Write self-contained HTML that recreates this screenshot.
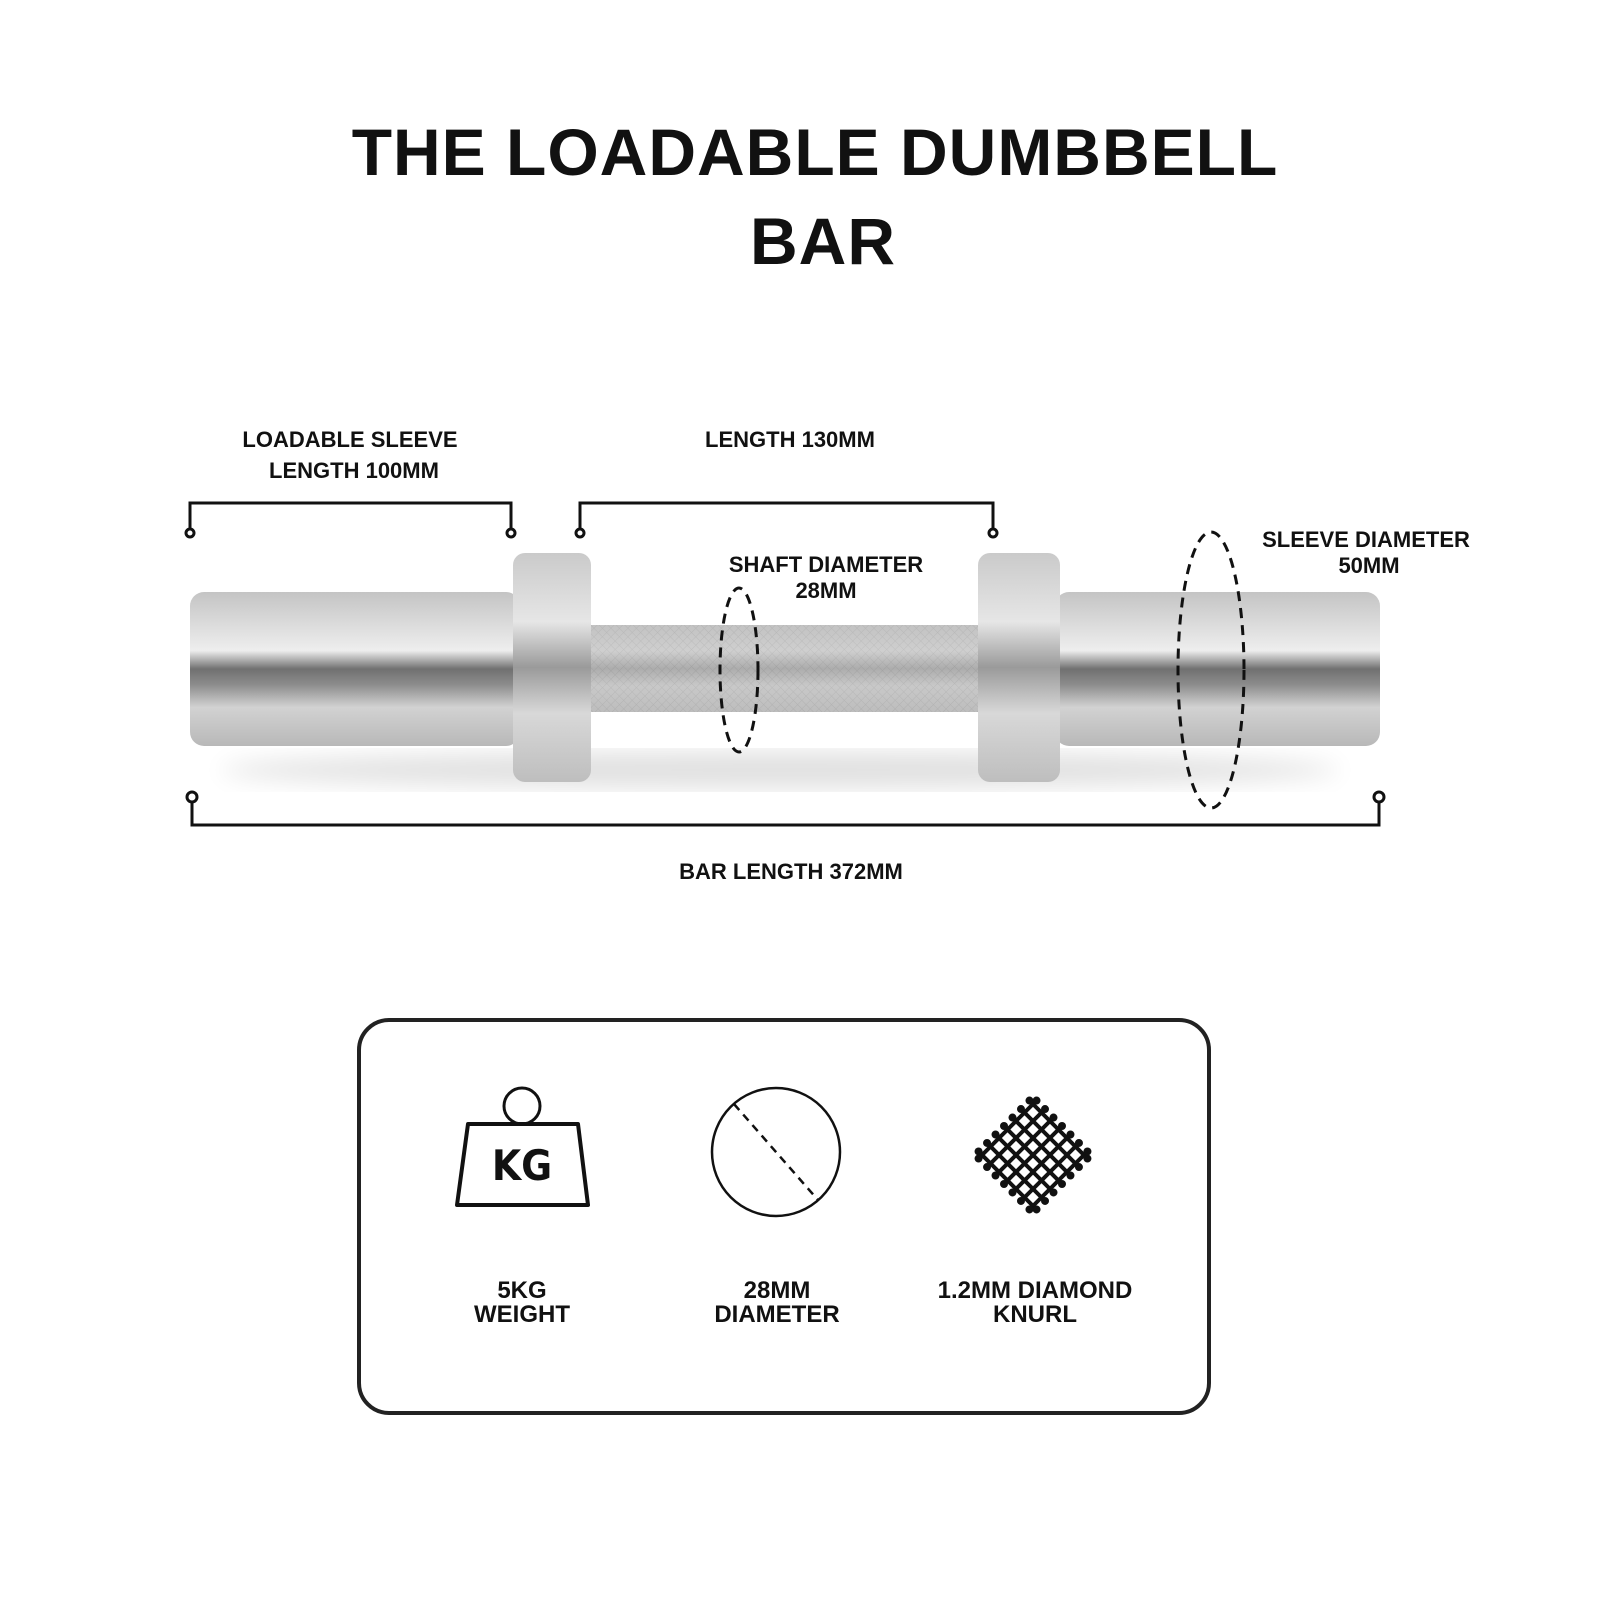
<!DOCTYPE html>
<html><head><style>
html,body{margin:0;padding:0;background:#fff}
svg{display:block}
text{font-family:"Liberation Sans",sans-serif;font-weight:bold;fill:#111}
</style></head><body>
<svg width="1600" height="1600" viewBox="0 0 1600 1600" xmlns="http://www.w3.org/2000/svg">
<defs>
<linearGradient id="m" x1="0" y1="0" x2="0" y2="1">
<stop offset="0" stop-color="#c4c4c4"/><stop offset="0.2" stop-color="#dadada"/>
<stop offset="0.38" stop-color="#eeeeee"/><stop offset="0.5" stop-color="#707070"/>
<stop offset="0.6" stop-color="#8c8c8c"/><stop offset="0.75" stop-color="#d2d2d2"/>
<stop offset="1" stop-color="#b8b8b8"/></linearGradient>
<linearGradient id="c" x1="0" y1="0" x2="0" y2="1">
<stop offset="0" stop-color="#cacaca"/><stop offset="0.3" stop-color="#e6e6e6"/>
<stop offset="0.5" stop-color="#9a9a9a"/><stop offset="0.7" stop-color="#d8d8d8"/>
<stop offset="1" stop-color="#bebebe"/></linearGradient>
<pattern id="k" width="6" height="6" patternUnits="userSpaceOnUse" patternTransform="rotate(45)">
<rect width="6" height="6" fill="none"/><path d="M0 0H6M0 0V6" stroke="#888" stroke-width="1" opacity="0.5"/></pattern>
<filter id="b"><feGaussianBlur stdDeviation="12"/></filter>
</defs>
<text x="815" y="175" font-size="66" text-anchor="middle" letter-spacing="1">THE LOADABLE DUMBBELL</text>
<text x="823" y="264" font-size="66" text-anchor="middle" letter-spacing="1">BAR</text>

<g font-size="22" text-anchor="middle">
<text x="350" y="447">LOADABLE SLEEVE</text><text x="354" y="478">LENGTH 100MM</text>
<text x="790" y="447">LENGTH 130MM</text>
<text x="826" y="572">SHAFT DIAMETER</text><text x="826" y="598">28MM</text>
<text x="1366" y="547">SLEEVE DIAMETER</text><text x="1369" y="573">50MM</text>
<text x="791" y="879">BAR LENGTH 372MM</text>
</g>

<g stroke="#111" stroke-width="3" fill="none">
<path d="M190 530V503H511V530"/><path d="M580 530V503H993V530"/>
<path d="M192 800V825H1379V800"/>
</g>
<g fill="#fff" stroke="#111" stroke-width="3">
<circle cx="190" cy="533" r="4"/><circle cx="511" cy="533" r="4"/>
<circle cx="580" cy="533" r="4"/><circle cx="993" cy="533" r="4"/>
<circle cx="192" cy="797" r="5"/><circle cx="1379" cy="797" r="5"/>
</g>

<ellipse cx="780" cy="770" rx="560" ry="18" fill="#000" opacity="0.12" filter="url(#b)"/>
<rect x="190" y="592" width="330" height="154" rx="14" fill="url(#m)"/>
<rect x="1055" y="592" width="325" height="154" rx="14" fill="url(#m)"/>
<rect x="585" y="625" width="405" height="87" fill="#bcbcbc"/>
<rect x="585" y="625" width="405" height="87" fill="url(#k)"/>
<rect x="585" y="625" width="405" height="87" fill="url(#c)" opacity="0.45"/>
<rect x="513" y="553" width="78" height="229" rx="12" fill="url(#c)"/>
<rect x="978" y="553" width="82" height="229" rx="12" fill="url(#c)"/>

<g fill="none" stroke="#111" stroke-width="3" stroke-dasharray="10 7">
<ellipse cx="739" cy="670" rx="19" ry="82"/>
<ellipse cx="1211" cy="670" rx="33" ry="138"/>
</g>

<rect x="359" y="1020" width="850" height="393" rx="30" fill="none" stroke="#222" stroke-width="4"/>

<circle cx="522" cy="1106" r="18" fill="none" stroke="#111" stroke-width="3"/>
<path d="M468 1124H578L588 1205H457Z" fill="none" stroke="#111" stroke-width="4" stroke-linejoin="round"/>
<text x="522" y="1180" font-size="42" text-anchor="middle" font-weight="normal" style="font-family:'DejaVu Sans Condensed','DejaVu Sans',sans-serif">KG</text>

<circle cx="776" cy="1152" r="64" fill="none" stroke="#111" stroke-width="2.5"/>
<line x1="734" y1="1104" x2="818" y2="1200" stroke="#111" stroke-width="2.5" stroke-dasharray="8 6"/>

<g transform="translate(1033 1155) rotate(45)" stroke="#111" stroke-width="4" fill="#111">
<path d="M-40 -35H40M-40 -23H40M-40 -11H40M-40 1H40M-40 13H40M-40 25H40M-40 37H40" transform="translate(0 -1)"/>
<path d="M-35 -40V40M-23 -40V40M-11 -40V40M1 -40V40M13 -40V40M25 -40V40M37 -40V40" transform="translate(-1 0)"/>
<g stroke="none">
<circle cx="-41" cy="-36" r="4"/><circle cx="-41" cy="-24" r="4"/><circle cx="-41" cy="-12" r="4"/><circle cx="-41" cy="0" r="4"/><circle cx="-41" cy="12" r="4"/><circle cx="-41" cy="24" r="4"/><circle cx="-41" cy="36" r="4"/>
<circle cx="41" cy="-36" r="4"/><circle cx="41" cy="-24" r="4"/><circle cx="41" cy="-12" r="4"/><circle cx="41" cy="0" r="4"/><circle cx="41" cy="12" r="4"/><circle cx="41" cy="24" r="4"/><circle cx="41" cy="36" r="4"/>
<circle cy="-41" cx="-36" r="4"/><circle cy="-41" cx="-24" r="4"/><circle cy="-41" cx="-12" r="4"/><circle cy="-41" cx="0" r="4"/><circle cy="-41" cx="12" r="4"/><circle cy="-41" cx="24" r="4"/><circle cy="-41" cx="36" r="4"/>
<circle cy="41" cx="-36" r="4"/><circle cy="41" cx="-24" r="4"/><circle cy="41" cx="-12" r="4"/><circle cy="41" cx="0" r="4"/><circle cy="41" cx="12" r="4"/><circle cy="41" cx="24" r="4"/><circle cy="41" cx="36" r="4"/>
</g></g>

<g font-size="24" text-anchor="middle">
<text x="522" y="1298">5KG</text><text x="522" y="1322">WEIGHT</text>
<text x="777" y="1298">28MM</text><text x="777" y="1322">DIAMETER</text>
<text x="1035" y="1298">1.2MM DIAMOND</text><text x="1035" y="1322">KNURL</text>
</g>
</svg>
</body></html>
